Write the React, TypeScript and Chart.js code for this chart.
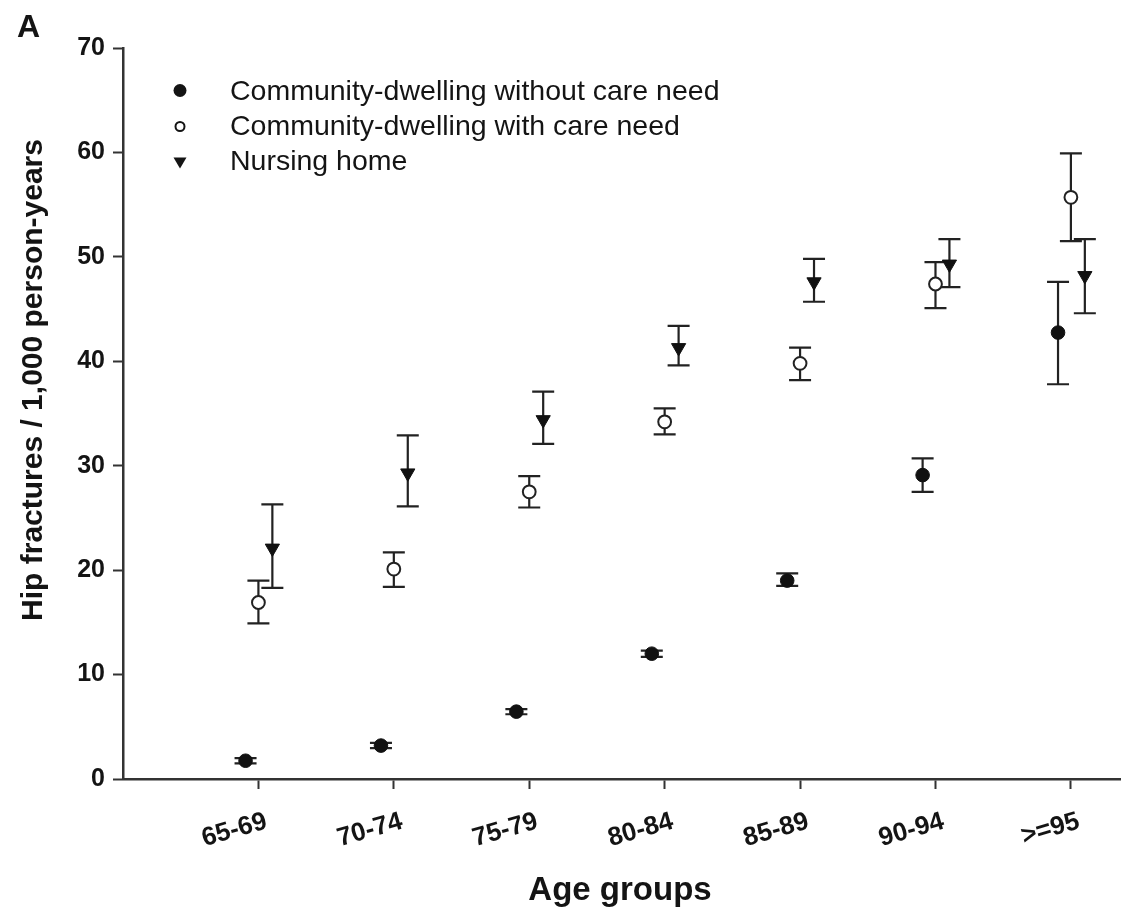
import React, { useEffect, useRef } from "react";
import { Chart, registerables } from "chart.js";

Chart.register(...registerables);

// ---------- data ----------
const categories = ["65-69", "70-74", "75-79", "80-84", "85-89", "90-94", ">=95"];
const seriesNames = [
  "Community-dwelling without care need",
  "Community-dwelling with care need",
  "Nursing home",
];

const noCareMean = [1.75, 3.2, 6.45, 12.0, 19.0, 29.1, 42.75];
const noCareLow = [1.5, 2.95, 6.2, 11.7, 18.5, 27.5, 37.8];
const noCareHigh = [2.0, 3.45, 6.7, 12.3, 19.7, 30.7, 47.6];

const careMean = [16.9, 20.1, 27.5, 34.2, 39.8, 47.4, 55.7];
const careLow = [14.9, 18.4, 26.0, 33.0, 38.2, 45.1, 51.5];
const careHigh = [19.0, 21.7, 29.0, 35.5, 41.3, 49.5, 59.9];

const nursingMean = [22.1, 29.3, 34.4, 41.3, 47.6, 49.3, 48.2];
const nursingLow = [18.3, 26.1, 32.1, 39.6, 45.7, 47.1, 44.6];
const nursingHigh = [26.3, 32.9, 37.1, 43.4, 49.8, 51.7, 51.7];

// horizontal dodge of each series within a category (category units)
const seriesShift = [-0.095, 0, 0.103];

const yTitle = "Hip fractures / 1,000 person-years";
const xTitle = "Age groups";
const panelLabel = "A";

// ---------- styling ----------
const FONT = '"Liberation Sans", Arial, Helvetica, sans-serif';
const INK = "#141414";
const AXIS = "#333333";

const means = [noCareMean, careMean, nursingMean];
const lows = [noCareLow, careLow, nursingLow];
const highs = [noCareHigh, careHigh, nursingHigh];

const errorBarPlugin = {
  id: "errorBars",
  beforeDatasetsDraw(chart: any) {
    const ctx = chart.ctx;
    const xs = chart.scales.x;
    const ys = chart.scales.y;
    ctx.save();
    ctx.strokeStyle = "#222222";
    ctx.lineWidth = 2.2;
    const cap = 11;
    means.forEach((m, s) => {
      m.forEach((_, i) => {
        const px = xs.getPixelForValue(i + seriesShift[s]);
        const yl = ys.getPixelForValue(lows[s][i]);
        const yh = ys.getPixelForValue(highs[s][i]);
        ctx.beginPath();
        ctx.moveTo(px, yl);
        ctx.lineTo(px, yh);
        ctx.moveTo(px - cap, yl);
        ctx.lineTo(px + cap, yl);
        ctx.moveTo(px - cap, yh);
        ctx.lineTo(px + cap, yh);
        ctx.stroke();
      });
    });
    ctx.restore();
  },
};

const textPlugin = {
  id: "texts",
  afterDraw(chart: any) {
    const ctx = chart.ctx;
    ctx.save();
    ctx.fillStyle = INK;
    // panel label
    ctx.font = `bold 32px ${FONT}`;
    ctx.textAlign = "left";
    ctx.textBaseline = "alphabetic";
    ctx.fillText(panelLabel, 17, 37);
    // x title
    ctx.font = `bold 33px ${FONT}`;
    ctx.textAlign = "center";
    ctx.fillText(xTitle, 620, 900);
    // y title
    ctx.save();
    ctx.translate(42, 380);
    ctx.rotate(-Math.PI / 2);
    ctx.font = `bold 30px ${FONT}`;
    ctx.textAlign = "center";
    ctx.fillText(yTitle, 0, 0);
    ctx.restore();

    // legend
    const mx = 180;
    const tx = 230;
    const rows = [100, 135, 170];
    ctx.font = `28.5px ${FONT}`;
    ctx.textAlign = "left";
    seriesNames.forEach((name, k) => {
      ctx.fillStyle = INK;
      ctx.fillText(name, tx, rows[k]);
      const cy = rows[k] - 9.5;
      ctx.beginPath();
      if (k === 0) {
        ctx.arc(mx, cy, 6.5, 0, Math.PI * 2);
        ctx.fill();
      } else if (k === 1) {
        ctx.arc(mx, cy + 1, 4.5, 0, Math.PI * 2);
        ctx.fillStyle = "#ffffff";
        ctx.fill();
        ctx.strokeStyle = INK;
        ctx.lineWidth = 2;
        ctx.stroke();
      } else {
        ctx.moveTo(mx - 6.5, cy - 3);
        ctx.lineTo(mx + 6.5, cy - 3);
        ctx.lineTo(mx, cy + 8);
        ctx.closePath();
        ctx.fill();
      }
    });
    ctx.restore();
  },
};

export default function App() {
  const ref = useRef<HTMLCanvasElement | null>(null);

  useEffect(() => {
    document.body.style.margin = "0";
    const canvas = ref.current;
    if (!canvas) return;

    const makeData = (s: number) =>
      means[s].map((v, i) => ({ x: i + seriesShift[s], y: v }));

    const chart = new Chart(canvas, {
      type: "scatter",
      data: {
        datasets: [
          {
            label: seriesNames[0],
            data: makeData(0),
            pointStyle: "circle",
            pointRadius: 6.8,
            pointBorderWidth: 1,
            pointBackgroundColor: "#111111",
            pointBorderColor: "#111111",
          },
          {
            label: seriesNames[1],
            data: makeData(1),
            pointStyle: "circle",
            pointRadius: 6.4,
            pointBorderWidth: 2,
            pointBackgroundColor: "#ffffff",
            pointBorderColor: "#222222",
          },
          {
            label: seriesNames[2],
            data: makeData(2),
            pointStyle: "triangle",
            pointRotation: 180,
            pointRadius: 8.2,
            pointBorderWidth: 1,
            pointBackgroundColor: "#111111",
            pointBorderColor: "#111111",
          },
        ],
      },
      options: {
        responsive: false,
        animation: false,
        devicePixelRatio: 1,
        layout: { autoPadding: false, padding: { top: 48, left: 0, right: 0, bottom: 0 } },
        plugins: {
          legend: { display: false },
          tooltip: { enabled: false },
        },
        scales: {
          x: {
            type: "linear",
            min: -1,
            max: 6.37,
            afterBuildTicks: (scale: any) => {
              scale.ticks = categories.map((_, i) => ({ value: i }));
            },
            afterFit: (scale: any) => {
              scale.height = 129;
              scale.paddingLeft = 0;
              scale.paddingRight = 0;
            },
            grid: {
              display: true,
              drawOnChartArea: false,
              drawTicks: true,
              tickLength: 10,
              tickWidth: 2,
              tickColor: AXIS,
            },
            border: { display: true, color: AXIS, width: 2.5 },
            ticks: {
              autoSkip: false,
              minRotation: 16,
              maxRotation: 16,
              padding: 17,
              labelOffset: 8,
              color: INK,
              font: { family: FONT, size: 26, weight: "bold" },
              callback: (v: any) => categories[Math.round(Number(v))] ?? "",
            },
          },
          y: {
            type: "linear",
            min: 0,
            max: 70,
            afterFit: (scale: any) => {
              scale.width = 123;
            },
            grid: {
              display: true,
              drawOnChartArea: false,
              drawTicks: true,
              tickLength: 10,
              tickWidth: 2,
              tickColor: AXIS,
            },
            border: { display: true, color: AXIS, width: 2.5 },
            ticks: {
              stepSize: 10,
              padding: 8,
              color: INK,
              font: { family: FONT, size: 25, weight: "bold" },
            },
          },
        },
      },
      plugins: [errorBarPlugin, textPlugin],
    });

    return () => chart.destroy();
  }, []);

  return (
    <div style={{ width: 1121, height: 908, background: "#ffffff" }}>
      <canvas ref={ref} width={1121} height={908} style={{ display: "block" }} />
    </div>
  );
}
